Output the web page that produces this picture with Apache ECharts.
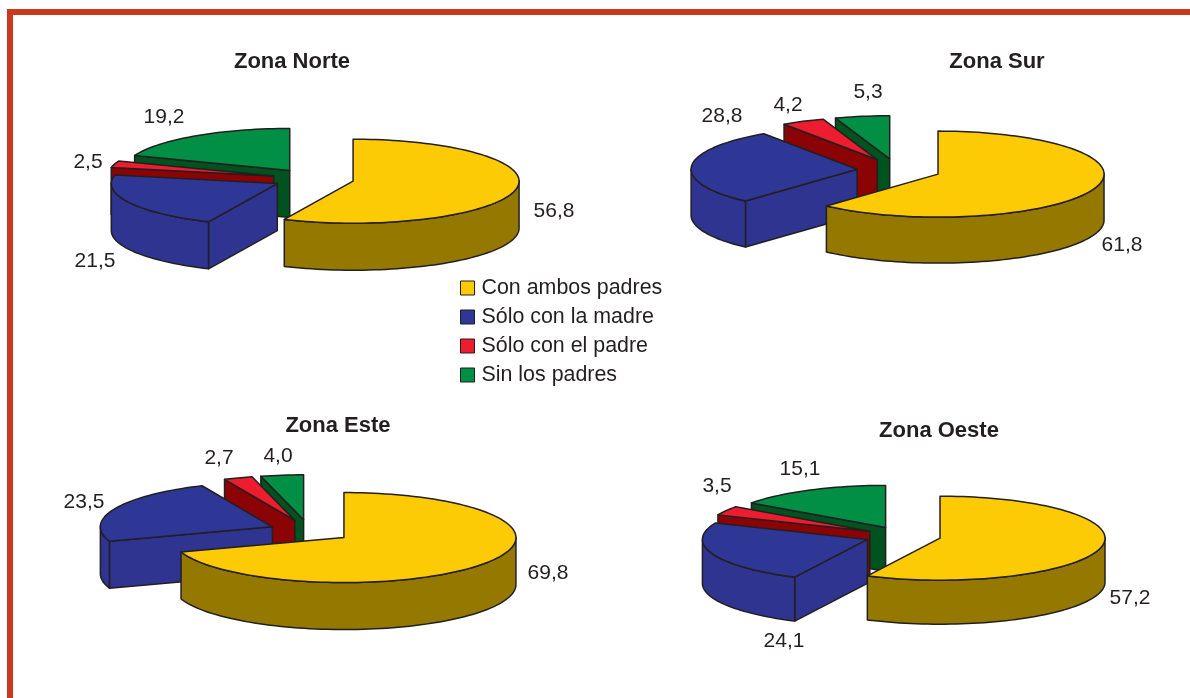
<!DOCTYPE html>
<html>
<head>
<meta charset="utf-8">
<title>Zonas</title>
<style>
html,body{margin:0;padding:0;background:#fff}
#main{width:1190px;height:698px}
</style>
<script src="https://cdn.jsdelivr.net/npm/echarts@6/dist/echarts.min.js"></script>
</head>
<body>
<div id="main"></div>
<script>
// datos, uno por zona
var zonas = ['Zona Norte', 'Zona Sur', 'Zona Este', 'Zona Oeste'];
var conAmbos = [56.8, 61.8, 69.8, 57.2];
var soloMadre = [21.5, 28.8, 23.5, 24.1];
var soloPadre = [2.5, 4.2, 2.7, 3.5];
var sinPadres = [19.2, 5.3, 4.0, 15.1];

var nombres = ['Con ambos padres', 'Sólo con la madre', 'Sólo con el padre', 'Sin los padres'];
var valores = [conAmbos, soloMadre, soloPadre, sinPadres];
var colorTapa = ['#fdca06', '#2e3795', '#ed1c2e', '#008f45'];
var colorLado = ['#957800', '#2e3490', '#8b0304', '#00521f'];

// posicion de cada torta: centro, radios, alto, separacion (sepAzul: la rebanada azul va mas cerca)
var tortas = [
    {cx: 313, cy: 179, rx: 166, ry: 42, alto: 47, sep: 41, sepAzul: 40},
    {cx: 897, cy: 170, rx: 166, ry: 43, alto: 46, sep: 44, sepAzul: 40},
    {cx: 309, cy: 531, rx: 172, ry: 45, alto: 47, sep: 43, sepAzul: 40},
    {cx: 903, cy: 536, rx: 165, ry: 42, alto: 44, sep: 38, sepAzul: 38}
];
var titulos = [[292, 51], [997, 51], [338, 415], [939, 420]];
// centro de las etiquetas, [zona][categoria]
var etiquetas = [
    [[554, 211], [95, 261], [88, 162], [164, 117]],
    [[1122, 245], [722, 116], [788, 105], [868, 92]],
    [[548, 573], [84, 502], [219, 458], [278, 456]],
    [[1130, 598], [784, 641], [717, 486], [800, 469]]
];

var fuente = '"Liberation Sans", Arial, sans-serif';
var tinta = '#231f20';
var rad = Math.PI / 180;

function poligono(puntos, color) {
    return {
        type: 'polygon',
        shape: {points: puntos},
        style: {fill: color, stroke: tinta, lineWidth: 1.5, lineJoin: 'round'}
    };
}

function dibujar(cat) {
    return function (params, api) {
        var z = params.dataIndex;
        var t = tortas[z];
        var total = 0, antes = 0;
        for (var i = 0; i < valores.length; i++) {
            total += valores[i][z];
            if (i < cat) antes += valores[i][z];
        }
        var a0 = antes / total * 360;
        var a1 = (antes + api.value(0)) / total * 360;
        var medio = (a0 + a1) / 2 * rad;
        var sep = cat === 1 ? t.sepAzul : t.sep;
        var ax = t.cx + sep * Math.sin(medio);
        var ay = t.cy - sep * t.ry / t.rx * Math.cos(medio);

        var arco = [];
        var n = Math.max(2, Math.ceil((a1 - a0) / 2));
        for (var k = 0; k <= n; k++) {
            var a = (a0 + (a1 - a0) * k / n) * rad;
            arco.push([ax + t.rx * Math.sin(a), ay - t.ry * Math.cos(a)]);
        }

        var hijos = [];
        // cara del corte inicial
        if (arco[0][0] < ax) {
            hijos.push(poligono([[ax, ay], arco[0], [arco[0][0], arco[0][1] + t.alto], [ax, ay + t.alto]], colorLado[cat]));
        }
        // pared curva: solo donde el borde avanza hacia la izquierda
        var arriba = [], abajo = [];
        for (var j = 0; j < n; j++) {
            if (arco[j + 1][0] < arco[j][0]) {
                if (!arriba.length) {
                    arriba.push(arco[j]);
                    abajo.push([arco[j][0], arco[j][1] + t.alto]);
                }
                arriba.push(arco[j + 1]);
                abajo.push([arco[j + 1][0], arco[j + 1][1] + t.alto]);
            }
        }
        if (arriba.length) hijos.push(poligono(arriba.concat(abajo.reverse()), colorLado[cat]));
        // cara del corte final
        var fin = arco[n];
        if (ax < fin[0]) {
            hijos.push(poligono([fin, [ax, ay], [ax, ay + t.alto], [fin[0], fin[1] + t.alto]], colorLado[cat]));
        }
        hijos.push(poligono([[ax, ay]].concat(arco), colorTapa[cat]));
        hijos.push({
            type: 'text',
            z2: 10,
            style: {
                x: etiquetas[z][cat][0],
                y: etiquetas[z][cat][1],
                text: api.value(0).toFixed(1).replace('.', ','),
                fill: tinta,
                font: '21px ' + fuente,
                align: 'center',
                verticalAlign: 'middle'
            }
        });
        return {type: 'group', children: hijos};
    };
}

// de atras hacia adelante: verde, rojo, azul, amarillo
var series = [];
for (var c = 3; c >= 0; c--) {
    series.push({
        type: 'custom',
        name: nombres[c],
        coordinateSystem: 'none',
        renderItem: dibujar(c),
        silent: true,
        itemStyle: {color: colorTapa[c]},
        data: valores[c].map(function (v) { return [v]; })
    });
}

var myChart = echarts.init(document.getElementById('main'), null, {renderer: 'canvas'});
var option = {
    animation: false,
    backgroundColor: '#fff',
    title: zonas.map(function (nombre, i) {
        return {
            text: nombre,
            left: titulos[i][0],
            top: titulos[i][1],
            textAlign: 'center',
            padding: 0,
            textStyle: {fontFamily: fuente, fontSize: 22, fontWeight: 'bold', color: tinta}
        };
    }),
    legend: {
        orient: 'vertical',
        left: 460,
        top: 276,
        padding: 0,
        itemWidth: 14,
        itemHeight: 14,
        itemGap: 5,
        selectedMode: false,
        icon: 'rect',
        data: nombres.map(function (n, i) {
            return {name: n, itemStyle: {color: colorTapa[i], borderColor: tinta, borderWidth: 1}};
        }),
        textStyle: {fontFamily: fuente, fontSize: 21.4, color: tinta, padding: [0, 0, 0, 2], lineHeight: 24}
    },
    graphic: [
        {type: 'rect', shape: {x: 7, y: 9, width: 1183, height: 6}, style: {fill: '#c8391e'}},
        {type: 'rect', shape: {x: 7, y: 9, width: 6, height: 689}, style: {fill: '#c8391e'}}
    ],
    series: series
};
myChart.setOption(option);
</script>
</body>
</html>
